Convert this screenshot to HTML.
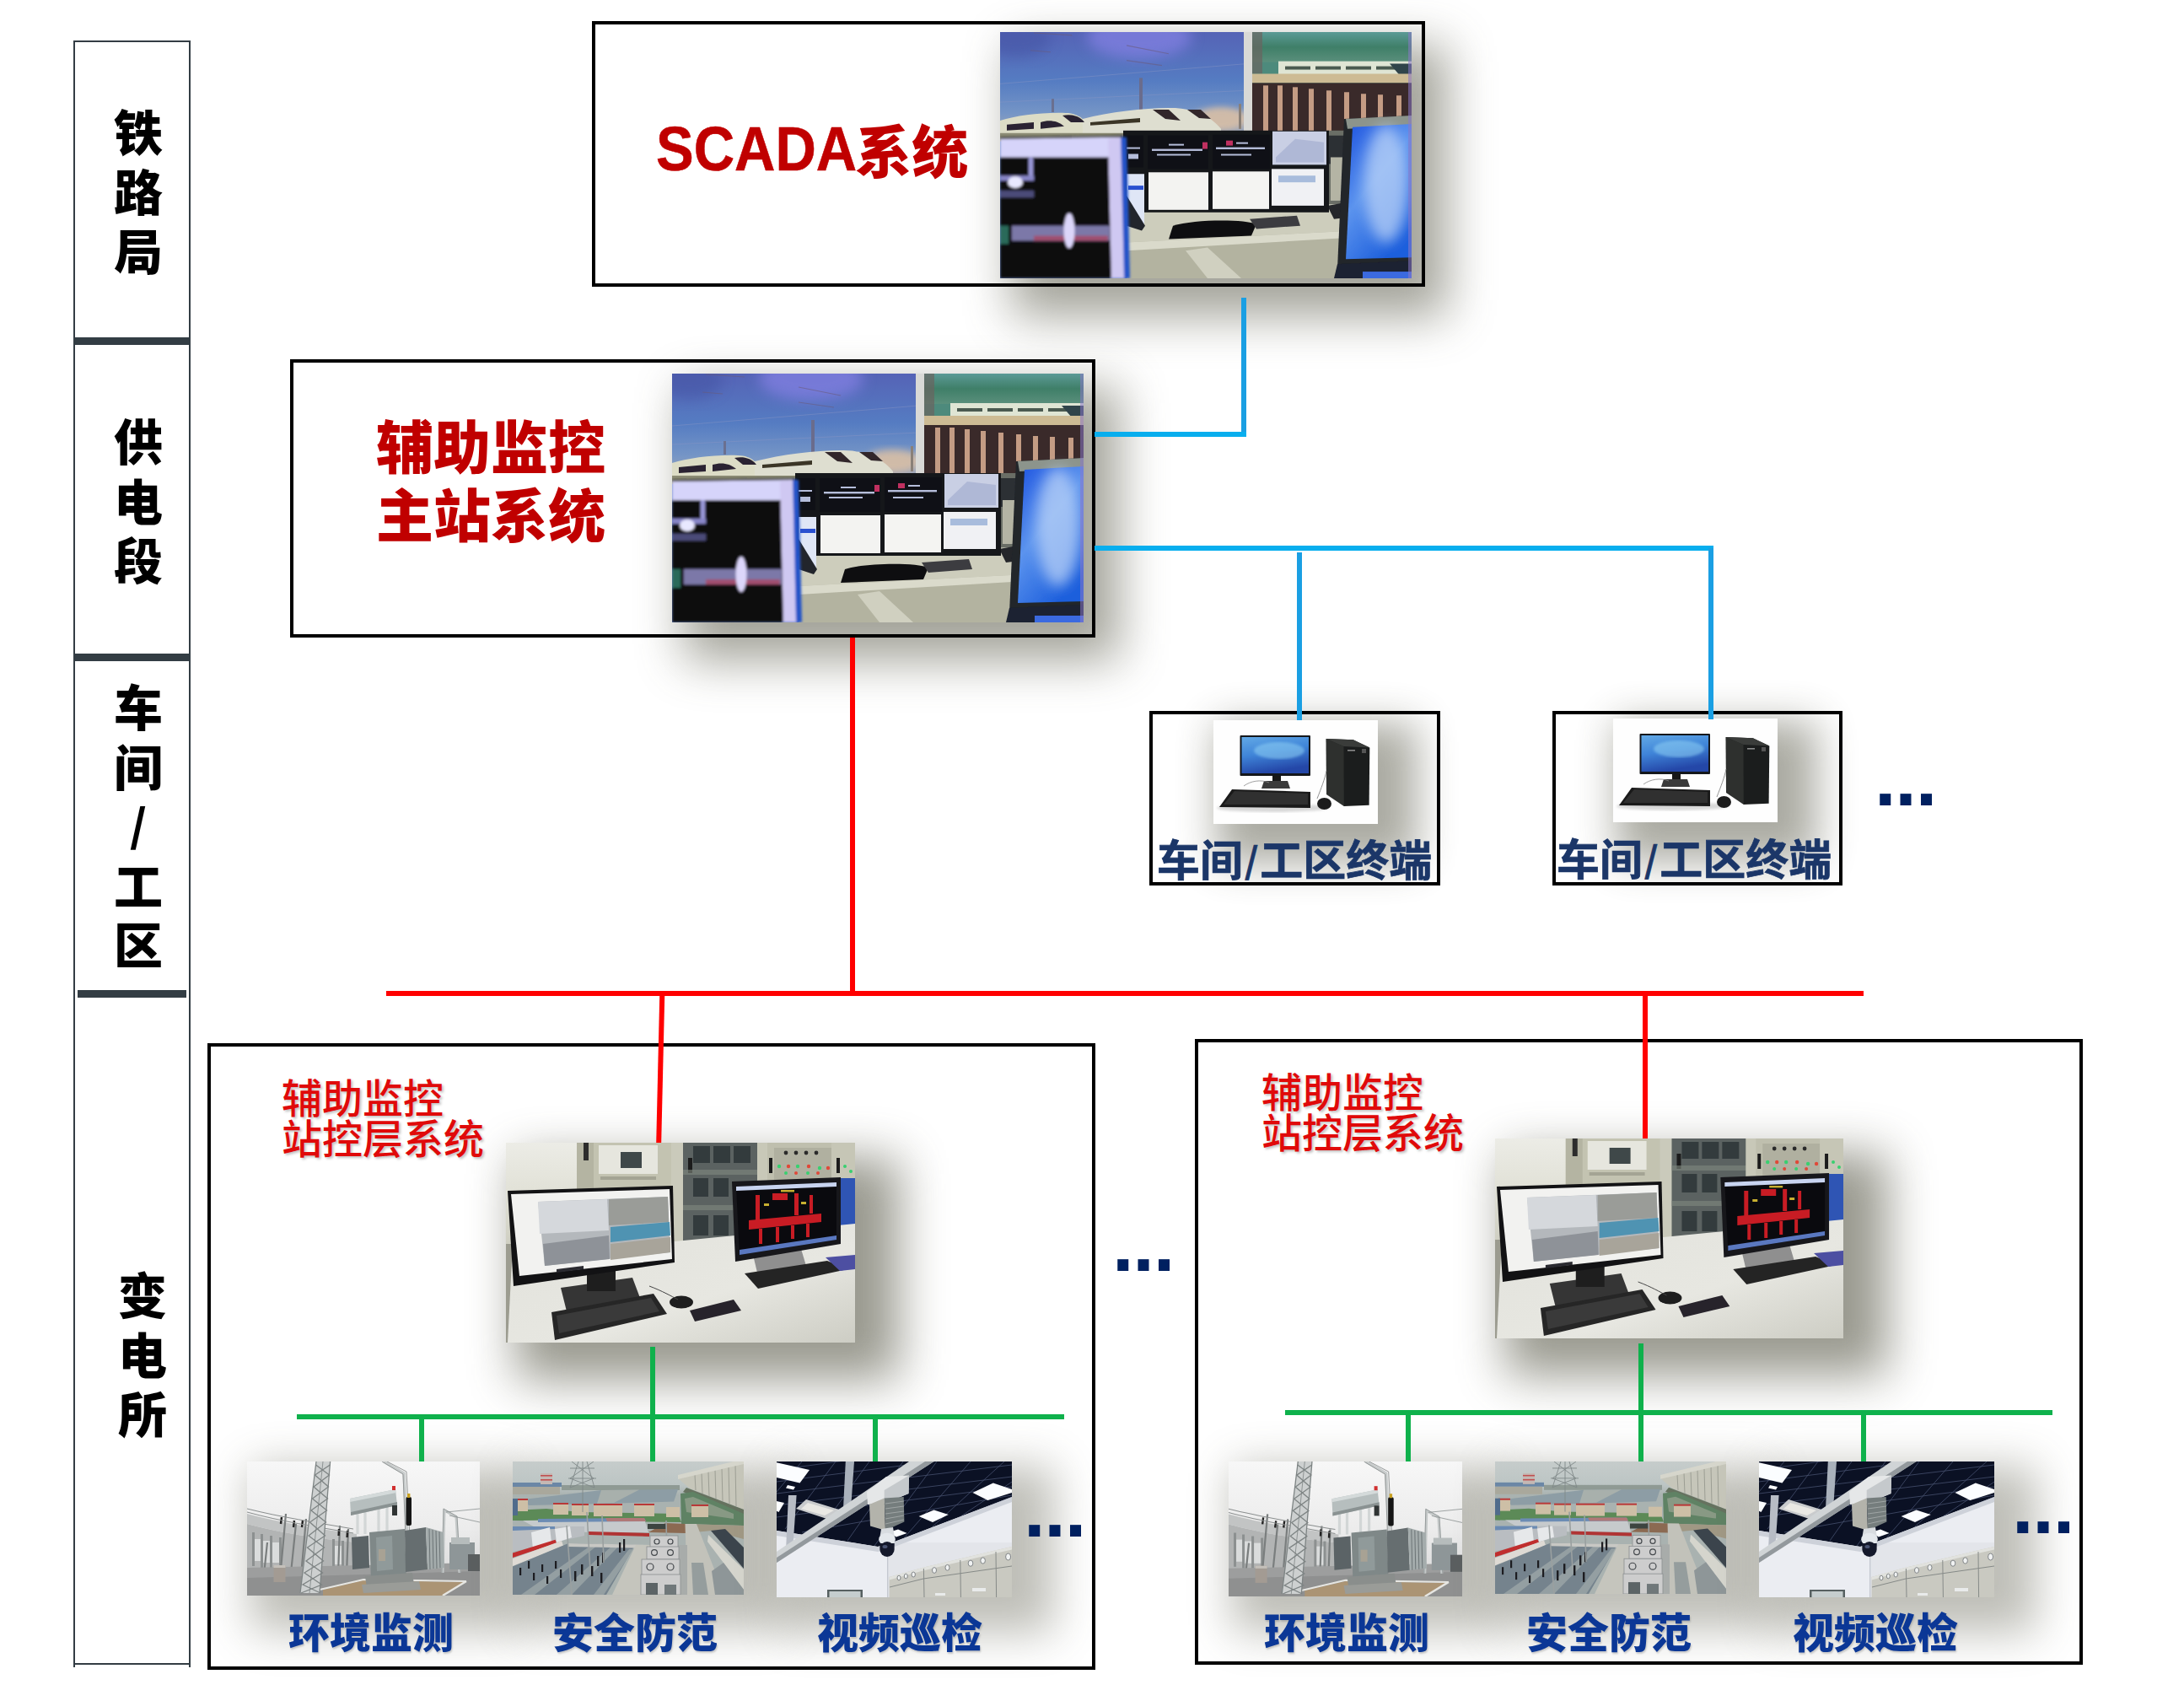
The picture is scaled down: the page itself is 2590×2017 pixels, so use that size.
<!DOCTYPE html>
<html lang="zh-CN">
<head>
<meta charset="utf-8">
<title>辅助监控系统结构</title>
<style>
html,body{margin:0;padding:0;background:#fff;}
body{width:2590px;height:2017px;position:relative;overflow:hidden;font-family:"Liberation Sans","Noto Sans CJK SC",sans-serif;}
.a{position:absolute;}
.box{position:absolute;box-sizing:border-box;border:4px solid #000;background:#fff;}
.ol{background:transparent;}
.sl{position:absolute;background:#333d44;}
.side{position:absolute;left:124px;width:80px;text-align:center;font-weight:900;font-size:58px;line-height:70.6px;color:#000;}
.side span{display:block;height:70.6px;line-height:70.6px;}
.cj{font-family:"Noto Sans CJK SC",sans-serif;}
.ph{position:absolute;overflow:visible;}
.shd{position:absolute;background:rgb(80,80,62);}
.ph svg{position:absolute;left:0;top:0;width:100%;height:100%;display:block;}
.big{position:absolute;font-weight:900;color:#c00000;white-space:nowrap;}
.sub{position:absolute;font-weight:500;color:#e00a0a;font-size:48px;line-height:47.5px;white-space:nowrap;text-shadow:2px 2px 3px rgba(120,120,120,.45);}
.lab{position:absolute;font-weight:900;color:#0b3796;font-size:49px;line-height:60px;white-space:nowrap;text-shadow:1px 2px 2px rgba(100,100,100,.3);}
.term{position:absolute;font-weight:700;-webkit-text-stroke:.7px #1b3668;color:#1b3668;font-size:51px;line-height:60px;white-space:nowrap;}
.dots{position:absolute;font-weight:700;color:#002060;font-size:92px;line-height:92px;letter-spacing:-1.2px;white-space:nowrap;}
.bl{position:absolute;background:#1a9fe3;}
.blh{position:absolute;background:#08aeee;}
.rd{position:absolute;background:#ff0000;}
.gr{position:absolute;background:#0fb14c;}
</style>
</head>
<body>
<svg width="0" height="0" style="position:absolute" aria-hidden="true">
<defs>
  <filter id="b1" x="-5%" y="-5%" width="110%" height="110%"><feGaussianBlur stdDeviation="0.7"/></filter>
  <filter id="b2" x="-5%" y="-5%" width="110%" height="110%"><feGaussianBlur stdDeviation="1.6"/></filter>
  <filter id="b4" x="-20%" y="-20%" width="140%" height="140%"><feGaussianBlur stdDeviation="4"/></filter>
  <filter id="b6" x="-30%" y="-30%" width="160%" height="160%"><feGaussianBlur stdDeviation="8"/></filter>
  <linearGradient id="cSky" x1="0" y1="0" x2="0" y2="1"><stop offset="0" stop-color="#5563b6"/><stop offset=".45" stop-color="#557cc2"/><stop offset=".75" stop-color="#7595c6"/><stop offset="1" stop-color="#a7abb6"/></linearGradient>
  <linearGradient id="cGreen" x1="0" y1="0" x2="0" y2="1"><stop offset="0" stop-color="#5b9a96"/><stop offset=".5" stop-color="#3f7f68"/><stop offset="1" stop-color="#5a8f7c"/></linearGradient>
  <linearGradient id="cBlue" x1="0" y1="0" x2=".6" y2="1"><stop offset="0" stop-color="#1f55e0"/><stop offset=".5" stop-color="#5b93ee"/><stop offset="1" stop-color="#1d5fdc"/></linearGradient>
  <linearGradient id="sWall" x1="0" y1="0" x2="0" y2="1"><stop offset="0" stop-color="#ecece6"/><stop offset=".45" stop-color="#e2e2d8"/><stop offset="1" stop-color="#cfcfc2"/></linearGradient>
  <linearGradient id="sDesk" x1="0" y1="0" x2="1" y2="1"><stop offset="0" stop-color="#e2e2dc"/><stop offset=".6" stop-color="#e7e7e1"/><stop offset="1" stop-color="#cdcdc4"/></linearGradient>
  <linearGradient id="pScr" x1="0" y1="0" x2=".3" y2="1"><stop offset="0" stop-color="#62a9e6"/><stop offset=".5" stop-color="#3f84d8"/><stop offset="1" stop-color="#2447a8"/></linearGradient>
  <linearGradient id="tSky" x1="0" y1="0" x2="0" y2="1"><stop offset="0" stop-color="#f7f7f7"/><stop offset=".5" stop-color="#ececec"/><stop offset=".8" stop-color="#dedede"/><stop offset="1" stop-color="#c8c8c8"/></linearGradient>
  <linearGradient id="aSky" x1="0" y1="0" x2="0" y2="1"><stop offset="0" stop-color="#c6cccb"/><stop offset=".7" stop-color="#bcc5c4"/><stop offset="1" stop-color="#a9b2b0"/></linearGradient>
<symbol id="ctrl" viewBox="0 0 488 295" preserveAspectRatio="none">
  <rect width="488" height="295" fill="#5d7cc2"/>
  <!-- left wall picture: sky -->
  <rect x="0" y="0" width="292" height="130" fill="url(#cSky)"/>
  <ellipse cx="165" cy="6" rx="62" ry="26" fill="#8280e2" opacity=".75" filter="url(#b6)"/>
  <ellipse cx="20" cy="8" rx="40" ry="22" fill="#4454a4" opacity=".6" filter="url(#b6)"/>
  <ellipse cx="262" cy="104" rx="34" ry="14" fill="#d9bfa6" opacity=".9" filter="url(#b4)"/>
  <g stroke="#6a5a78" stroke-width="1.2" opacity=".55">
    <line x1="40" y1="1" x2="86" y2="4"/><line x1="36" y1="22" x2="60" y2="24"/><line x1="150" y1="16" x2="200" y2="26"/><line x1="150" y1="34" x2="192" y2="40"/>
    <line x1="0" y1="62" x2="292" y2="38" stroke="#8a96c4" stroke-width=".8"/><line x1="0" y1="84" x2="292" y2="70" stroke="#8a96c4" stroke-width=".8"/>
  </g>
  <rect x="165" y="55" width="4" height="38" fill="#6a6c8c"/>
  <rect x="61" y="80" width="3" height="16" fill="#6a7090"/>
  <rect x="283" y="86" width="3" height="30" fill="#8a8078"/>
  <!-- trains -->
  <g filter="url(#b1)">
    <path d="M0,106 C20,100 50,96 78,97 C95,97 104,108 106,118 L106,124 L0,126 Z" fill="#dcdcc6"/>
    <path d="M98,104 C130,96 170,91 200,91 C225,90 250,100 262,116 L262,122 L98,124 Z" fill="#deded0"/>
    <path d="M8,111 L40,108 L40,116 L8,118 Z" fill="#2a2430"/>
    <path d="M48,108 C58,105 68,106 76,113 L48,116 Z" fill="#2a2430"/>
    <path d="M74,100 C84,98 94,100 100,108 L84,108 Z" fill="#2a2430"/>
    <path d="M107,108 L166,103 L166,108 L107,112 Z" fill="#3a3428"/>
    <path d="M181,93 L200,93 L214,106 L196,104 Z" fill="#30282c"/>
    <path d="M222,93 L238,93 L250,104 L236,103 Z" fill="#30282c"/>
    <rect x="0" y="121" width="262" height="10" fill="#8c8c74"/>
  </g>
  <!-- divider + right wall picture -->
  <rect x="289" y="0" width="11" height="130" fill="#d9d9d6"/>
  <rect x="299" y="0" width="189" height="125" fill="#4d8a7c"/>
  <rect x="299" y="0" width="189" height="36" fill="url(#cGreen)"/>
  <rect x="299" y="0" width="12" height="50" fill="#6a6460" opacity=".7"/>
  <rect x="330" y="35" width="158" height="17" fill="#dfe5d4" filter="url(#b1)"/>
  <g fill="#4a5a50"><rect x="338" y="41" width="30" height="4"/><rect x="374" y="41" width="30" height="4"/><rect x="410" y="41" width="30" height="4"/><rect x="446" y="41" width="26" height="4"/></g>
  <path d="M462,38 L488,38 L488,52 L474,52 Z" fill="#30444a"/>
  <rect x="299" y="50" width="189" height="11" fill="#cdbb94"/>
  <rect x="299" y="61" width="189" height="62" fill="#3a2a2a"/>
  <g fill="#c49c84">
    <rect x="312" y="64" width="6" height="58"/><rect x="329" y="64" width="6" height="58"/><rect x="347" y="66" width="6" height="56"/><rect x="366" y="68" width="6" height="54"/><rect x="387" y="70" width="6" height="50"/><rect x="408" y="72" width="6" height="40"/><rect x="428" y="74" width="6" height="30"/><rect x="448" y="75" width="6" height="28"/><rect x="470" y="76" width="6" height="26"/>
  </g>
  <!-- stuff behind desks on the right -->
  <rect x="386" y="118" width="30" height="92" fill="#6a6e66"/>
  <rect x="388" y="124" width="20" height="34" fill="#2c3034"/>
  <rect x="392" y="150" width="22" height="52" fill="#b4b4a4"/>
  <!-- desk -->
  <path d="M150,214 L400,206 L420,232 L420,295 L150,295 Z" fill="#cdcdbc"/>
  <path d="M150,252 L420,238 L420,295 L150,295 Z" fill="#b3b3a0"/>
  <path d="M150,252 L420,238 L420,246 L150,262 Z" fill="#dadacb"/>
  <path d="M220,262 L246,258 L286,295 L246,295 Z" fill="#d0d0c0" filter="url(#b1)"/>
  <path d="M205,232 C230,224 290,224 304,230 L298,244 L200,248 Z" fill="#0e0e10"/>
  <path d="M296,224 L352,220 L356,232 L304,236 Z" fill="#3c3c40"/>
  <path d="M388,208 L410,204 L412,222 L396,224 Z" fill="#24262a"/>
  <!-- centre monitor wall -->
  <rect x="146" y="118" width="244" height="98" fill="#15171a"/>
  <g fill="#0f1016">
    <rect x="148" y="124" width="22" height="38"/><rect x="175" y="124" width="72" height="40"/><rect x="252" y="123" width="68" height="41"/>
  </g>
  <rect x="323" y="119" width="64" height="40" fill="#c9cfe4"/>
  <path d="M327,150 L350,128 L384,132 L384,156 L327,156 Z" fill="#a9b2d2" opacity=".8"/>
  <g fill="#c8d0f0" opacity=".9">
    <rect x="150" y="138" width="16" height="2"/><rect x="152" y="146" width="12" height="6"/>
    <rect x="180" y="140" width="60" height="2.4"/><rect x="186" y="146" width="40" height="2"/><rect x="200" y="134" width="18" height="2"/>
    <rect x="256" y="138" width="58" height="2.4"/><rect x="262" y="146" width="36" height="2"/><rect x="280" y="132" width="14" height="2"/>
  </g>
  <rect x="240" y="132" width="6" height="8" fill="#c03060"/><rect x="268" y="130" width="8" height="6" fill="#c03060"/>
  <rect x="150" y="170" width="21" height="60" fill="#dfe6f6"/>
  <rect x="152" y="184" width="18" height="5" fill="#2a50d0"/>
  <rect x="176" y="168" width="71" height="45" fill="#f3f3f1"/>
  <rect x="252" y="167" width="67" height="45" fill="#f4f4f2"/>
  <rect x="322" y="164" width="62" height="44" fill="#f0f1f4"/>
  <rect x="330" y="172" width="44" height="8" fill="#a8bcdc"/>
  <path d="M150,196 L172,232 L168,238 L150,232 Z" fill="#22252c"/>
  <!-- left foreground monitor -->
  <g filter="url(#b2)">
    <path d="M0,126 L146,124 L150,295 L0,295 Z" fill="#07070f"/>
    <path d="M0,128 L144,126 L146,150 L0,150 Z" fill="#d6d4fa"/>
    <path d="M128,128 L146,126 L150,295 L132,295 Z" fill="#cfc8f2"/>
    <path d="M143,126 L150,126 L154,295 L147,295 Z" fill="#2352c8"/>
    <rect x="34" y="150" width="5" height="28" fill="#9a98d8"/>
    <rect x="0" y="172" width="40" height="6" fill="#8886c8"/>
    <ellipse cx="18" cy="180" rx="9" ry="7" fill="#e8e8ff"/>
    <rect x="0" y="190" width="40" height="8" fill="#4c4c78"/>
    <rect x="14" y="232" width="116" height="18" fill="#7c78a8"/>
    <rect x="40" y="244" width="88" height="6" fill="#a05070"/>
    <rect x="0" y="232" width="10" height="22" fill="#2a6a5a"/>
    <ellipse cx="82" cy="238" rx="6.5" ry="21" fill="#dcd6fa"/>
  </g>
  <!-- right foreground monitor -->
  <g filter="url(#b1)">
    <path d="M408,104 L488,100 L488,290 L400,284 Z" fill="#20252a"/>
    <path d="M410,104 L488,100 L488,112 L412,116 Z" fill="#8c948c"/>
    <path d="M418,114 L488,110 L488,270 L410,272 Z" fill="url(#cBlue)"/>
    <ellipse cx="458" cy="182" rx="26" ry="70" fill="#b9d2f7" opacity=".75" filter="url(#b6)"/>
    <path d="M400,278 L488,274 L488,295 L396,295 Z" fill="#1b2030"/>
    <rect x="430" y="287" width="58" height="8" fill="#3a6ae0"/>
  </g>
  <rect x="484" y="0" width="4" height="295" fill="#8a78c8" opacity=".55"/>
</symbol>
<symbol id="stn" viewBox="0 0 414 237" preserveAspectRatio="none">
  <rect width="414" height="237" fill="#dddcd4"/>
  <!-- wall + cabinets -->
  <rect x="0" y="0" width="86" height="120" fill="url(#sWall)"/>
  <rect x="84" y="0" width="114" height="120" fill="#c3c3b1"/>
  <rect x="84" y="0" width="20" height="120" fill="#b4b4a2"/>
  <rect x="92" y="0" width="6" height="21" fill="#2c2c2c"/>
  <rect x="110" y="3" width="70" height="34" fill="#e6e6de"/>
  <rect x="136" y="11" width="25" height="19" fill="#3f4849"/>
  <rect x="112" y="40" width="66" height="4" fill="#a4a494"/>
  <rect x="196" y="0" width="16" height="120" fill="#cacabb"/>
  <rect x="210" y="0" width="90" height="120" fill="#5b6261"/>
  <g fill="#333b3d"><rect x="222" y="4" width="20" height="20"/><rect x="246" y="4" width="20" height="20"/><rect x="270" y="4" width="20" height="20"/>
   <rect x="222" y="42" width="18" height="22"/><rect x="246" y="42" width="18" height="22"/><rect x="222" y="86" width="18" height="24"/><rect x="246" y="86" width="18" height="24"/></g>
  <rect x="216" y="18" width="5" height="18" fill="#1c1c1c"/>
  <rect x="210" y="32" width="90" height="6" fill="#81887f" opacity=".6"/>
  <rect x="210" y="74" width="90" height="6" fill="#81887f" opacity=".6"/>
  <rect x="298" y="0" width="14" height="110" fill="#c8c8b8"/>
  <rect x="310" y="0" width="80" height="110" fill="#bfbfae"/>
  <rect x="312" y="18" width="4" height="18" fill="#1c1c1c"/>
  <rect x="318" y="6" width="70" height="40" fill="#b0b0a0"/>
  <g fill="#2a2a2a"><circle cx="332" cy="12" r="2.4"/><circle cx="344" cy="12" r="2.4"/><circle cx="356" cy="12" r="2.4"/><circle cx="368" cy="12" r="2.4"/></g>
  <g fill="#38d070"><circle cx="324" cy="28" r="2.2"/><circle cx="346" cy="28" r="2.2"/><circle cx="372" cy="30" r="2.2"/><circle cx="332" cy="36" r="2"/><circle cx="358" cy="36" r="2"/></g>
  <g fill="#e04838"><circle cx="335" cy="28" r="2.2"/><circle cx="359" cy="28" r="2.2"/><circle cx="382" cy="30" r="2.2"/><circle cx="344" cy="36" r="2"/><circle cx="370" cy="36" r="2"/></g>
  <rect x="386" y="0" width="28" height="100" fill="#c6c6b6"/>
  <rect x="392" y="18" width="4" height="18" fill="#1c1c1c"/>
  <g fill="#38d070"><circle cx="402" cy="28" r="2"/><circle cx="409" cy="34" r="2"/></g>
  <rect x="397" y="42" width="17" height="56" fill="#2f55b4"/>
  <!-- desk -->
  <path d="M0,120 L190,118 L414,96 L414,237 L0,237 Z" fill="url(#sDesk)"/>
  <path d="M0,120 L8,120 L2,237 L0,237 Z" fill="#9c9c90"/>
  <!-- right monitor -->
  <path d="M293,133 L350,126 L356,146 L298,154 Z" fill="#8f8f8f"/>
  <path d="M268,46 L397,41 L397,120 L272,141 Z" fill="#17171b"/>
  <path d="M273,52 L392,47 L392,115 L277,133 Z" fill="#0a0a0e"/>
  <path d="M273,52 L392,47 L392,52 L273,57 Z" fill="#c8d4f0"/>
  <path d="M277,127 L392,110 L392,115 L277,133 Z" fill="#5a78c0"/>
  <g fill="#c81c24"><path d="M288,92 L374,84 L374,94 L288,103 Z"/><rect x="296" y="62" width="5" height="30"/><rect x="316" y="60" width="18" height="8"/><rect x="342" y="60" width="5" height="26"/><rect x="360" y="62" width="4" height="22"/><rect x="300" y="102" width="4" height="18"/><rect x="320" y="100" width="4" height="18"/><rect x="338" y="98" width="4" height="16"/><rect x="356" y="96" width="4" height="16"/></g>
  <g fill="#c8b030"><rect x="326" y="56" width="16" height="2.4"/><rect x="306" y="72" width="6" height="3"/><rect x="350" y="70" width="6" height="3"/></g>
  <path d="M283,155 L381,140 L405,150 L299,173 Z" fill="#242424"/>
  <path d="M379,136 L414,133 L414,150 L396,152 Z" fill="#4d4fa2"/>
  <!-- left monitor -->
  <path d="M65,172 L150,160 L162,192 L72,200 Z" fill="#353535"/>
  <rect x="96" y="150" width="34" height="26" fill="#1e1e1e"/>
  <path d="M2,57 L198,51 L200,142 L9,170 Z" fill="#121214"/>
  <path d="M6,61 L194,55 L197,138 L16,158 Z" fill="#f2f2f0"/>
  <path d="M38,70 L192,64 L195,130 L46,146 Z" fill="#b4b8bc"/>
  <path d="M38,70 L120,67 L122,104 L40,108 Z" fill="#d5d8dc"/>
  <path d="M122,67 L192,64 L193,94 L122,98 Z" fill="#9a9c98"/>
  <path d="M124,100 L194,94 L195,110 L124,118 Z" fill="#4f93b2"/>
  <path d="M44,120 L122,110 L123,138 L46,146 Z" fill="#8e9298"/>
  <path d="M124,120 L195,112 L195,130 L124,139 Z" fill="#a8a49a"/>
  <path d="M60,150 L92,146 L92,150 L60,154 Z" fill="#2a2a30"/>
  <!-- keyboard, mouse, phone -->
  <path d="M54,201 L175,179 L191,203 L58,234 Z" fill="#262626"/>
  <path d="M60,205 L172,184 L182,200 L63,226 Z" fill="#3a3a3a"/>
  <ellipse cx="208" cy="189" rx="14" ry="7.5" fill="#1e1e1e"/>
  <path d="M218,199 L270,186 L279,199 L224,212 Z" fill="#27232b"/>
  <path d="M170,170 C186,176 196,182 204,186" stroke="#444" stroke-width="1" fill="none"/>
</symbol>
<symbol id="pc" viewBox="0 0 195 123" preserveAspectRatio="none">
  <rect width="195" height="123" fill="#fefefe"/>
  <ellipse cx="70" cy="104" rx="66" ry="5" fill="#d8d8d8" filter="url(#b2)"/>
  <path d="M133.7,22 L165.8,23.3 L185.3,32.4 L184.6,100.7 L154.8,102 L134,74.2 Z" fill="#1b1d1d"/>
  <path d="M133.7,22 L154.5,31 L154.8,102 L134,88 Z" fill="#2e302e"/>
  <path d="M133.7,22 L165.8,23.3 L185.3,32.4 L154.5,31 Z" fill="#3a3c3a"/>
  <rect x="159" y="35" width="9" height="1.6" fill="#8a8a8a"/><rect x="176" y="34" width="5" height="5" fill="#555"/>
  <rect x="70" y="64" width="10" height="13" fill="#171717"/>
  <path d="M60,72 L88,72 L91,81 L57,81 Z" fill="#3a3a3a"/>
  <rect x="31.5" y="18" width="83.5" height="48" rx="1" fill="#14171b"/>
  <rect x="33.5" y="20" width="79.5" height="43" fill="url(#pScr)"/>
  <ellipse cx="78" cy="36" rx="30" ry="10" fill="#8fd0f4" opacity=".55" filter="url(#b2)"/>
  <path d="M7,103 L22,82 L115,85 L115,104 Z" fill="#1a1a1a"/>
  <path d="M12,100 L25,84 L112,87 L112,100 Z" fill="#303030"/>
  <ellipse cx="131.5" cy="99" rx="8.5" ry="7" fill="#1c1c1c"/>
  <path d="M123,93 C128,80 132,70 134,60" stroke="#777" stroke-width=".8" fill="none"/>
  <path d="M36,78 C44,72 56,70 66,74" stroke="#888" stroke-width=".8" fill="none"/>
</symbol>

<symbol id="tr" viewBox="0 0 276 159" preserveAspectRatio="none">
  <rect width="276" height="159" fill="url(#tSky)"/>
  <!-- far viaduct + structures on left -->
  <path d="M0,62 C30,70 70,78 130,86 L130,96 C70,90 30,82 0,74 Z" fill="#c2c4c4"/>
  <path d="M0,74 C30,82 70,90 130,96 L130,132 L0,132 Z" fill="#b2b4b4"/>
  <g fill="#8c9090"><rect x="6" y="84" width="3" height="40"/><rect x="16" y="86" width="3" height="40"/><rect x="27" y="88" width="3" height="38"/><rect x="38" y="90" width="3" height="38"/><rect x="101" y="92" width="3" height="34"/><rect x="112" y="94" width="3" height="34"/></g>
  <g fill="#e4e6e6" opacity=".8"><rect x="9" y="92" width="7" height="26"/><rect x="19" y="94" width="8" height="26"/><rect x="30" y="96" width="8" height="24"/><rect x="104" y="100" width="8" height="22"/></g>
  <g stroke="#7a7e7e" stroke-width="2.2"><line x1="46" y1="62" x2="40" y2="128"/><line x1="70" y1="68" x2="64" y2="136"/><line x1="58" y1="74" x2="52" y2="132"/><line x1="110" y1="76" x2="108" y2="134"/><line x1="120" y1="80" x2="118" y2="134"/><line x1="24" y1="96" x2="20" y2="134"/></g>
  <g stroke="#222" stroke-width="2.4"><line x1="41" y1="66" x2="40" y2="74"/><line x1="56" y1="70" x2="55" y2="78"/><line x1="66" y1="70" x2="65" y2="78"/><line x1="109" y1="80" x2="108.6" y2="88"/><line x1="119" y1="82" x2="118.6" y2="90"/></g>
  <path d="M0,56 C40,66 80,72 126,80" stroke="#8a8e8e" stroke-width="1" fill="none"/>
  <path d="M0,60 C40,71 80,77 126,85" stroke="#8a8e8e" stroke-width="1" fill="none"/>
  <!-- ground -->
  <path d="M0,126 L276,120 L276,159 L0,159 Z" fill="#9d9e9e"/>
  <path d="M0,138 L276,130 L276,159 L0,159 Z" fill="#8f9090"/>
  <path d="M90,152 L138,141 L258,143 L233,159 L90,159 Z" fill="#ab9474"/>
  <path d="M86,152 L138,140 L260,142" stroke="#e6e6e2" stroke-width="2" fill="none"/>
  <path d="M260,142 L232,159" stroke="#e6e6e2" stroke-width="2.4" fill="none"/>
  <rect x="31.5" y="123" width="14" height="20" fill="#a39b93"/>
  <rect x="31.5" y="123" width="14" height="3" fill="#c4c0ba"/>
  <!-- right gantry + far transformer -->
  <g stroke="#c4c8c8" stroke-width="3" fill="none"><path d="M232,132 L234,58 L248,66 L252,132"/></g>
  <g stroke="#8a9090" stroke-width=".8" fill="none"><path d="M231,132 L233,56 L249,65 L253,132"/><path d="M236,60 L276,56"/><path d="M240,64 L276,72"/></g>
  <rect x="240" y="96" width="30" height="32" fill="#8e9698"/>
  <rect x="242" y="90" width="22" height="8" fill="#b6bcbc"/>
  <rect x="262" y="110" width="14" height="20" fill="#5a5e60"/>
  <!-- lattice tower -->
  <path d="M82,0 L98.6,0 L86,156 L63,156 Z" fill="#cdd0d0"/>
  <g stroke="#7e8484" stroke-width="1.3" fill="none">
    <path d="M82,0 L63,156"/><path d="M98.6,0 L86,156"/><path d="M90,0 L74,156" stroke-width=".8"/>
    <path d="M81.5,4 L97.5,16 L79,30 L95.5,44 L76,58 L93.5,72 L73,88 L91.5,102 L70,118 L89.5,132 L66,146 L87,156"/>
    <path d="M98.4,4 L80.5,16 L96.5,30 L77.5,44 L94.5,58 L74.5,72 L92.5,88 L71.5,102 L90.5,118 L68,132 L88.5,146 L64,156"/>
  </g>
  <!-- left gantry legs near transformer -->
  <g stroke="#c8cccc" stroke-width="3.4"><path d="M162,0 L186,14 L190,90" fill="none"/></g>
  <g stroke="#8c9090" stroke-width=".9" fill="none"><path d="M160,0 L185,15 L188,90"/><path d="M166,0 L189,12 L193,90"/></g>
  <!-- transformer -->
  <g stroke="#d2d6d6" stroke-width="3.2"><line x1="131" y1="62" x2="131" y2="86"/><line x1="140" y1="60" x2="140" y2="86"/><line x1="156" y1="56" x2="156" y2="84"/><line x1="166" y1="54" x2="166" y2="82"/></g>
  <path d="M122,44 L176,33 L178,52 L123,64 Z" fill="#b6bebe"/>
  <path d="M122,44 L176,33 L177,37 L122,48 Z" fill="#d4dada"/>
  <path d="M123,60 L178,48 L178,52 L123,64 Z" fill="#8a9292"/>
  <rect x="172" y="29" width="4" height="5" fill="#d03030"/>
  <rect x="188.5" y="42" width="6.5" height="34" rx="2" fill="#161616"/>
  <rect x="190" y="38" width="3.4" height="5" fill="#c8a020"/>
  <rect x="172" y="52" width="6" height="12" fill="#303434"/>
  <path d="M145,84 L187,80 L189,140 L147,143 Z" fill="#7f8888"/>
  <path d="M153,90 L172,88 L173,128 L154,130 Z" fill="#909a9a"/>
  <rect x="156" y="104" width="8" height="14" fill="#a8a294"/>
  <path d="M124,90 L144,88 L145,126 L125,128 Z" fill="#5b6366"/>
  <path d="M187,82 L212,78 L214,128 L188,131 Z" fill="#666e70"/>
  <path d="M212,78 L233,84 L234,126 L214,128 Z" fill="#a4acac"/>
  <g stroke="#6c7476" stroke-width="1"><line x1="216" y1="80" x2="217" y2="128"/><line x1="220" y1="81" x2="221" y2="127"/><line x1="224" y1="82" x2="225" y2="127"/><line x1="228" y1="83" x2="229" y2="126"/></g>
  <path d="M140,136 L196,132 L198,146 L142,150 Z" fill="#8a8e8c"/>
  <path d="M136,146 L204,142 L206,152 L138,156 Z" fill="#9a9c98"/>
</symbol>
<symbol id="ae" viewBox="0 0 274 158" preserveAspectRatio="none">
  <rect width="274" height="158" fill="#a9b2b0"/>
  <rect width="274" height="40" fill="url(#aSky)"/>
  <!-- far factory / blue roofs -->
  <rect x="0" y="25" width="58" height="5" fill="#6b87a6"/>
  <rect x="0" y="30" width="56" height="9" fill="#a9a89c"/>
  <rect x="33" y="14" width="14" height="13" fill="#c4b8b4"/><rect x="33" y="16" width="14" height="1.6" fill="#c05050"/><rect x="33" y="21" width="14" height="1.6" fill="#c05050"/>
  <rect x="58" y="28" width="140" height="6" fill="#8f9a94"/>
  <!-- big roofs -->
  <path d="M13,45 L105,34 L196,33 L191,47.5 L111,50 L19,52 Z" fill="#8d9da5"/>
  <path d="M105,34 L150,33.5 L120,49 L100,50 Z" fill="#a8b0ac"/>
  <!-- viaduct -->
  <path d="M196,20 L274,0 L274,57 L210,32 Z" fill="#c6c6ba"/>
  <g stroke="#9c9e94" stroke-width="1"><line x1="216" y1="16" x2="217" y2="34"/><line x1="224" y1="14" x2="225" y2="38"/><line x1="232" y1="12" x2="233" y2="41"/><line x1="240" y1="10" x2="241" y2="44"/><line x1="248" y1="8" x2="249" y2="47"/><line x1="256" y1="6" x2="257" y2="50"/><line x1="264" y1="4" x2="265" y2="53"/></g>
  <path d="M196,16 L274,-3 L274,3 L196,21 Z" fill="#d6d6cc"/>
  <path d="M206,31 L274,57 L274,66 L202,36 Z" fill="#66725f"/>
  <!-- trees/green right + green strips -->
  <path d="M199,38 L214,36 L274,62 L274,76 L200,74 Z" fill="#5f8264"/>
  <path d="M204,44 L214,42 L262,62 L262,68 L206,60 Z" fill="#a9ad9f" opacity=".55"/>
  <path d="M0,58 L40,56 L80,60 L196,62 L200,72 L0,70 Z" fill="#5c8a57"/>
  <!-- houses -->
  <g fill="#cdbfa6"><rect x="4" y="45" width="14" height="14"/><rect x="48" y="50" width="18" height="13"/><rect x="70" y="51" width="20" height="13"/><rect x="96" y="51" width="34" height="14"/><rect x="144" y="51" width="24" height="14"/><rect x="182" y="54" width="16" height="12"/><rect x="212" y="52" width="20" height="14"/></g>
  <g fill="#b93838"><rect x="4" y="44" width="14" height="2"/><rect x="48" y="49" width="18" height="2"/><rect x="70" y="50" width="20" height="2"/><rect x="96" y="50" width="34" height="2"/><rect x="144" y="50" width="24" height="2"/><rect x="212" y="51" width="20" height="2"/></g>
  <rect x="0" y="44" width="6" height="20" fill="#506c8c"/>
  <!-- long white buildings -->
  <path d="M12,70 L156,68 L161,84 L90,84 L30,80 Z" fill="#c6cacc"/>
  <path d="M30,68 L156,67 L158,71 L30,72 Z" fill="#6c8cb4"/>
  <path d="M110,67 L156,67 L158,71 L112,71 Z" fill="#b07878"/>
  <path d="M0,77 L85,77 L85,88 L0,107 Z" fill="#b9bdc1"/>
  <path d="M0,77 L50,77 L50,80 L0,82 Z" fill="#6a8ab2"/>
  <g fill="#e6e8ea"><path d="M22,84 L44,78 L46,96 L24,104 Z"/><path d="M50,80 L68,77 L70,90 L52,96 Z"/></g>
  <path d="M90,83 L162,85 L162,89 L90,87 Z" fill="#b03434"/>
  <path d="M161,84 L181,73 L205,74 L205,85 Z" fill="#8b6a52"/>
  <path d="M205,74 L274,76 L274,92 L236,82 L205,85 Z" fill="#a09884"/>
  <rect x="160" y="74" width="22" height="6" fill="#3c4440"/>
  <!-- banner -->
  <path d="M0,108.6 L50.5,92.7 L52,96.7 L0,114 Z" fill="#c02e2e"/>
  <path d="M0,115 L58,94 L60,100 L0,124 Z" fill="#dedad4"/>
  <!-- yard -->
  <path d="M0,124.5 L66,97 L145,99 L111,158 L0,158 Z" fill="#75838d"/>
  <g fill="#9aa4a6" opacity=".85"><path d="M10,158 L92,100 L100,100 L26,158 Z"/><path d="M52,158 L118,100 L126,100 L70,158 Z"/><path d="M96,158 L138,104 L143,104 L108,158 Z"/></g>
  <path d="M66,97 L163,99 L163,103 L66,101 Z" fill="#c8c8c4"/>
  <g fill="#1c1c20"><rect x="8" y="126" width="2.2" height="9"/><rect x="18" y="118" width="2.2" height="9"/><rect x="24" y="132" width="2.2" height="9"/><rect x="34" y="122" width="2.2" height="9"/><rect x="40" y="136" width="2.2" height="9"/><rect x="50" y="118" width="2.2" height="9"/><rect x="56" y="128" width="2.2" height="10"/><rect x="73" y="130" width="2.4" height="12"/><rect x="81" y="122" width="2.4" height="12"/><rect x="93" y="124" width="2.4" height="12"/><rect x="100" y="112" width="2.4" height="12"/><rect x="106" y="108" width="2.4" height="12"/><rect x="104" y="132" width="2.4" height="12"/><rect x="126" y="96" width="2.2" height="12"/><rect x="131" y="92" width="2.2" height="14"/></g>
  <g stroke="#9aa0a0" stroke-width="1.6"><line x1="64" y1="76" x2="70" y2="158"/><line x1="88" y1="60" x2="92" y2="130"/><line x1="106" y1="64" x2="108" y2="120"/><line x1="182" y1="70" x2="184" y2="158"/></g>
  <!-- road + equipment -->
  <path d="M146,99 L164,99 L152,158 L118,158 Z" fill="#c5c5bd"/>
  <path d="M204.5,74 L218,74 L251,158 L207,158 Z" fill="#c2c2ba"/>
  <path d="M196,99 L207,99 L207,158 L196,158 Z" fill="#a8acaa"/>
  <g fill="#cdcdcd" stroke="#8a8e90" stroke-width=".8"><rect x="163" y="88" width="33" height="14"/><rect x="159" y="101" width="38" height="15"/><rect x="153" y="116" width="45" height="19"/><rect x="152" y="134" width="47" height="24"/></g>
  <g fill="none" stroke="#44484c" stroke-width="1.2"><circle cx="171" cy="95" r="3"/><circle cx="187" cy="95" r="3"/><circle cx="168" cy="108" r="3.4"/><circle cx="187" cy="108" r="3.4"/><circle cx="163" cy="125" r="4"/><circle cx="187" cy="125" r="4"/></g>
  <rect x="158" y="144" width="14" height="14" fill="#5c6466"/><rect x="180" y="146" width="14" height="12" fill="#70787a"/>
  <!-- solar building -->
  <path d="M232,87 L274,128 L274,152 L231,95 Z" fill="#d5d5cd"/>
  <path d="M235,82 L252,80 L274,102 L274,127 Z" fill="#3b444c"/>
  <path d="M250,120 L274,152 L274,158 L240,158 L236,130 Z" fill="#8e9698"/>
  <path d="M212,120 L226,120 L232,158 L214,158 Z" fill="#8a9496" opacity=".8"/>
  <!-- pylon -->
  <g stroke="#7f8888" stroke-width=".9" fill="none"><path d="M78,0 L68,31"/><path d="M88,0 L97,31"/><path d="M68,8 L97,8 M66,20 L99,20 M70,0 L96,20 L68,31 M96,0 L68,20 L97,31"/><path d="M83,0 L83,60"/></g>
</symbol>

<symbol id="cam" viewBox="0 0 279 161" preserveAspectRatio="none">
  <rect width="279" height="161" fill="#ebedf2"/>
  <rect x="131.6" y="96" width="148" height="65" fill="#e3e5ea"/>
  <!-- ceiling -->
  <path d="M0,0 L279,0 L279,42 L140,95 L120,101 L0,82 Z" fill="#0b1124"/>
  <g stroke="#46516f" stroke-width=".8" fill="none">
    <path d="M0,10 L279,-28 M0,24 L279,-12 M0,38 L279,4 M0,52 L279,18 M0,66 L279,30 M30,84 L279,40"/>
    <path d="M30,0 L-20,60 M70,0 L10,80 M110,0 L46,88 M150,0 L84,94 M190,0 L116,100 M230,0 L150,92 M270,0 L184,78 M300,10 L214,68 M310,30 L244,56"/>
  </g>
  <path d="M0,82 L120,101 L140,95 L279,42 L279,48 L140,101 L120,107 L0,88 Z" fill="#cdd1d9"/>
  <!-- lights -->
  <g fill="#fbfdff"><path d="M0,1.3 L39,10 L27.5,25.5 L0,19 Z"/><path d="M232.5,37 L256.8,25.5 L279,33 L279,37 L250.4,46 Z"/><path d="M168.6,65 L186.5,57.5 L203.8,63 L185,72 Z"/><path d="M133,84 L144,80.5 L154.6,85 L141.8,89.4 Z"/><path d="M0,47 L9,49 L2.5,60 L0,58.8 Z"/><path d="M13,28 L22,30 L20,33.5 L11,31.5 Z"/></g>
  <!-- AC cassette -->
  <path d="M23,56 L35,45 L75.4,57.5 L58.8,67.7 Z" fill="#c9cbcd"/>
  <path d="M29,56 L37,49 L68,58 L57,64 Z" fill="#e9e8e4"/>
  <!-- hangers -->
  <path d="M81.8,0 L92,0 L88,56 L79,56 Z" fill="#a9b1bb"/>
  <path d="M14,40 L23.6,40 L19,106 L11,106 Z" fill="#b7bcc5"/>
  <!-- rail -->
  <path d="M157,0 L186.5,0 L0,120 L0,107 Z" fill="#d0d4d6"/>
  <path d="M176,0 L186.5,0 L0,120 L0,114 Z" fill="#93999d"/>
  <!-- camera -->
  <path d="M107,36 L130,18 L157,16.6 L156.5,38 L127.7,50 L108,51 Z" fill="#e5e7e8"/>
  <path d="M127.7,34 L157,16.6 L156.5,38 L127.7,50 Z" fill="#c5c9cc"/>
  <path d="M110,51 L127.7,43.4 L129,81.8 L111,76.6 Z" fill="#b3b3ab"/>
  <path d="M127.7,43.4 L150.7,42 L151.4,71.5 L129,81.8 Z" fill="#757d7d"/>
  <g stroke="#a9afaf" stroke-width=".8"><line x1="129" y1="50" x2="151" y2="47"/><line x1="129" y1="56" x2="151" y2="53"/><line x1="129" y1="62" x2="151" y2="59"/><line x1="129" y1="68" x2="151" y2="64"/><line x1="129" y1="74" x2="151" y2="69"/></g>
  <path d="M124,80 L138,78 L140,90 L122,92 Z" fill="#d8dce0"/>
  <ellipse cx="131" cy="92.5" rx="9.8" ry="7.8" fill="#e4e8ec"/>
  <path d="M122.3,100 A8.7,8.7 0 0 0 139.7,100 L139.7,97 L122.3,97 Z" fill="#15192b"/>
  <ellipse cx="131" cy="104" rx="8.7" ry="8.9" fill="#15192b"/>
  <ellipse cx="128.5" cy="101" rx="3" ry="2" fill="#4a5472"/>
  <!-- cabinets -->
  <path d="M133.5,137 L173.7,125.8 L217,115.6 L259,105.4 L279,101 L279,161 L133.5,161 Z" fill="#c9c9c1"/>
  <path d="M133.5,137 L173.7,125.8 L217,115.6 L259,105.4 L279,101 L279,104.5 L259,109 L217,119 L173.7,129.4 L133.5,140.6 Z" fill="#e1e2de"/>
  <g stroke="#868a88" stroke-width="1" fill="none"><path d="M174.4,127 L175,161 M217.8,117 L218.4,161 M260,107 L260.6,161"/><path d="M134,149 L174,139 L279,124"/></g>
  <g fill="#f0f2f2" stroke="#767a7e" stroke-width=".9"><ellipse cx="145" cy="138" rx="2" ry="2.8"/><ellipse cx="153.3" cy="136" rx="2" ry="2.8"/><ellipse cx="162.2" cy="134" rx="2.2" ry="3"/><ellipse cx="187" cy="129" rx="2.5" ry="3.4"/><ellipse cx="202.5" cy="125.8" rx="2.5" ry="3.4"/><ellipse cx="230" cy="120.7" rx="2.8" ry="3.6"/><ellipse cx="244.6" cy="117.5" rx="2.8" ry="3.6"/><ellipse cx="274.6" cy="113" rx="3" ry="4"/></g>
  <g fill="#e9ebeb"><rect x="232" y="150" width="16" height="4"/><rect x="188" y="156" width="12" height="3"/></g>
  <rect x="60" y="152" width="42" height="9" fill="#566061"/><rect x="62.5" y="154" width="37" height="7" fill="#c5cdce"/>
  <rect x="131" y="113" width="1.3" height="48" fill="#c4c8d0"/>
</symbol>
</defs>
</svg>


<!-- ===== sidebar ===== -->
<div class="sl" style="left:87px;top:48px;width:2px;height:1929px"></div>
<div class="sl" style="left:224px;top:48px;width:2px;height:1929px"></div>
<div class="sl" style="left:87px;top:48px;width:139px;height:2px"></div>
<div class="sl" style="left:87px;top:1972px;width:139px;height:2px"></div>
<div class="sl" style="left:87px;top:400px;width:139px;height:9px"></div>
<div class="sl" style="left:87px;top:775px;width:139px;height:9px"></div>
<div class="sl" style="left:92px;top:1174px;width:129px;height:9px"></div>
<div class="side" style="top:124px"><span>铁</span><span>路</span><span>局</span></div>
<div class="side" style="top:491px"><span>供</span><span>电</span><span>段</span></div>
<div class="side" style="top:806px"><span>车</span><span>间</span><span class="cj" style="font-size:52px;position:relative;top:-6px">/</span><span>工</span><span>区</span></div>
<div class="side" style="top:1503px;left:129px"><span>变</span><span>电</span><span>所</span></div>

<!-- ===== boxes ===== -->
<div class="box" style="left:702px;top:25px;width:988px;height:315px"></div>
<div class="box" style="left:344px;top:426px;width:955px;height:330px"></div>
<div class="box" style="left:1363px;top:843px;width:345px;height:207px"></div>
<div class="box" style="left:1841px;top:843px;width:344px;height:207px"></div>
<div class="box" style="left:246px;top:1237px;width:1053px;height:743px"></div>
<div class="box" style="left:1417px;top:1232px;width:1053px;height:742px"></div>

<!-- ===== photos ===== -->
<div class="shd" style="left:1200px;top:54px;width:516px;height:321px;filter:blur(28px);opacity:0.52"></div>
<div class="ph" style="left:1186px;top:38px;width:488px;height:292px"><svg width="488" height="292"><use href="#ctrl" width="488" height="292"/></svg></div>
<div class="shd" style="left:811px;top:459px;width:516px;height:324px;filter:blur(28px);opacity:0.52"></div>
<div class="ph" style="left:797px;top:443px;width:488px;height:295px"><svg width="488" height="295"><use href="#ctrl" width="488" height="295"/></svg></div>
<div class="shd" style="left:1443px;top:858px;width:237px;height:165px;filter:blur(24px);opacity:0.48"></div>
<div class="ph" style="left:1439px;top:854px;width:195px;height:123px"><svg width="195" height="123"><use href="#pc" width="195" height="123"/></svg></div>
<div class="shd" style="left:1917px;top:856px;width:237px;height:165px;filter:blur(24px);opacity:0.48"></div>
<div class="ph" style="left:1913px;top:852px;width:195px;height:123px"><svg width="195" height="123"><use href="#pc" width="195" height="123"/></svg></div>
<div class="shd" style="left:612px;top:1373px;width:454px;height:263px;filter:blur(28px);opacity:0.58"></div>
<div class="ph" style="left:600px;top:1355px;width:414px;height:237px"><svg width="414" height="237"><use href="#stn" width="414" height="237"/></svg></div>
<div class="shd" style="left:1785px;top:1368px;width:453px;height:263px;filter:blur(28px);opacity:0.58"></div>
<div class="ph" style="left:1773px;top:1350px;width:413px;height:237px"><svg width="413" height="237"><use href="#stn" width="413" height="237"/></svg></div>
<div class="shd" style="left:297px;top:1739px;width:322px;height:195px;filter:blur(26px);opacity:0.37"></div>
<div class="ph" style="left:293px;top:1733px;width:276px;height:159px"><svg width="276" height="159"><use href="#tr" width="276" height="159"/></svg></div>
<div class="shd" style="left:612px;top:1739px;width:320px;height:194px;filter:blur(26px);opacity:0.37"></div>
<div class="ph" style="left:608px;top:1733px;width:274px;height:158px"><svg width="274" height="158"><use href="#ae" width="274" height="158"/></svg></div>
<div class="shd" style="left:925px;top:1739px;width:325px;height:197px;filter:blur(26px);opacity:0.37"></div>
<div class="ph" style="left:921px;top:1733px;width:279px;height:161px"><svg width="279" height="161"><use href="#cam" width="279" height="161"/></svg></div>
<div class="shd" style="left:1461px;top:1739px;width:323px;height:196px;filter:blur(26px);opacity:0.37"></div>
<div class="ph" style="left:1457px;top:1733px;width:277px;height:160px"><svg width="277" height="160"><use href="#tr" width="277" height="160"/></svg></div>
<div class="shd" style="left:1777px;top:1739px;width:320px;height:193px;filter:blur(26px);opacity:0.37"></div>
<div class="ph" style="left:1773px;top:1733px;width:274px;height:157px"><svg width="274" height="157"><use href="#ae" width="274" height="157"/></svg></div>
<div class="shd" style="left:2090px;top:1739px;width:325px;height:197px;filter:blur(26px);opacity:0.37"></div>
<div class="ph" style="left:2086px;top:1733px;width:279px;height:161px"><svg width="279" height="161"><use href="#cam" width="279" height="161"/></svg></div>

<!-- ===== box outlines (above photo shadows) ===== -->
<div class="box ol" style="left:702px;top:25px;width:988px;height:315px"></div>
<div class="box ol" style="left:344px;top:426px;width:955px;height:330px"></div>
<div class="box ol" style="left:1363px;top:843px;width:345px;height:207px"></div>
<div class="box ol" style="left:1841px;top:843px;width:344px;height:207px"></div>
<div class="box ol" style="left:246px;top:1237px;width:1053px;height:743px"></div>
<div class="box ol" style="left:1417px;top:1232px;width:1053px;height:742px"></div>

<!-- ===== connectors ===== -->
<div class="bl" style="left:1472px;top:353px;width:6px;height:165px"></div>
<div class="blh" style="left:1298px;top:512px;width:180px;height:6px"></div>
<div class="blh" style="left:1298px;top:647px;width:734px;height:6px"></div>
<div class="bl" style="left:1538px;top:655px;width:6px;height:199px"></div>
<div class="bl" style="left:2026px;top:650px;width:6px;height:203px"></div>
<div class="rd" style="left:1008px;top:756px;width:6px;height:422px"></div>
<div class="rd" style="left:458px;top:1175px;width:1752px;height:6px"></div>
<svg class="a" style="left:770px;top:1178px" width="30" height="180" viewBox="0 0 30 180"><line x1="15.3" y1="0" x2="11.2" y2="177" stroke="#ff0000" stroke-width="6"/></svg>
<div class="rd" style="left:1948px;top:1181px;width:6px;height:169px"></div>
<div class="gr" style="left:352px;top:1677px;width:910px;height:6px"></div>
<div class="gr" style="left:771px;top:1597px;width:6px;height:136px"></div>
<div class="gr" style="left:497px;top:1683px;width:6px;height:50px"></div>
<div class="gr" style="left:1035px;top:1683px;width:6px;height:50px"></div>
<div class="gr" style="left:1524px;top:1672px;width:910px;height:6px"></div>
<div class="gr" style="left:1943px;top:1593px;width:6px;height:140px"></div>
<div class="gr" style="left:1667px;top:1678px;width:6px;height:55px"></div>
<div class="gr" style="left:2207px;top:1678px;width:6px;height:55px"></div>


<!-- ===== labels ===== -->
<div class="big" style="left:778px;top:132px;font-size:67px;line-height:100px"><span style="display:inline-block;font-size:75px;line-height:0;transform:scaleX(.893);transform-origin:0 50%;margin-right:-30.5px;position:relative;top:-3px;-webkit-text-stroke:.6px #c00000">SCADA</span>系统</div>
<div class="big" style="left:446px;top:492px;font-size:68px;line-height:80.5px">辅助监控<br>主站系统</div>
<div class="term" style="left:1372px;top:992px">车间<span class="cj" style="font-size:42px;line-height:0;position:relative;top:-3px;margin:0 2px">/</span>工区终端</div>
<div class="term" style="left:1846px;top:991px">车间<span class="cj" style="font-size:42px;line-height:0;position:relative;top:-3px;margin:0 2px">/</span>工区终端</div>
<div class="sub" style="left:334px;top:1280px">辅助监控<br>站控层系统</div>
<div class="sub" style="left:1496px;top:1273px">辅助监控<br>站控层系统</div>
<div class="lab" style="left:342px;top:1907px">环境监测</div>
<div class="lab" style="left:655px;top:1907px">安全防范</div>
<div class="lab" style="left:969px;top:1907px">视频巡检</div>
<div class="lab" style="left:1499px;top:1907px">环境监测</div>
<div class="lab" style="left:1810px;top:1907px">安全防范</div>
<div class="lab" style="left:2126px;top:1907px">视频巡检</div>
<div class="dots" style="left:2223px;top:877px">...</div>
<div class="dots" style="left:1319px;top:1429px">...</div>
<div class="dots" style="left:1214px;top:1744px">...</div>
<div class="dots" style="left:2386px;top:1740px">...</div>


</body>
</html>
